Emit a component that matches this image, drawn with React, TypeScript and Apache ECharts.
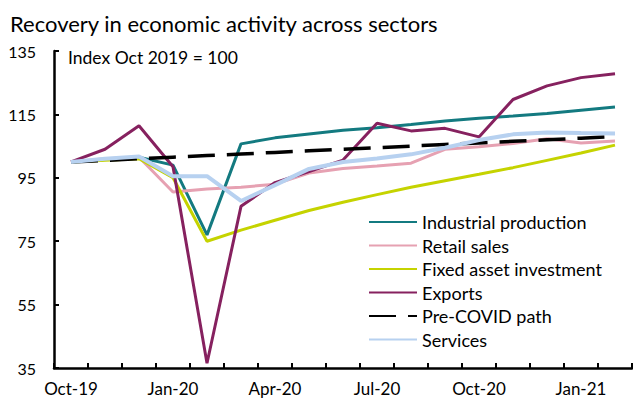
import React, { useEffect, useRef } from "react";
import * as echarts from "echarts";

const categories = ["Oct-19","Nov-19","Dec-19","Jan-20","Feb-20","Mar-20","Apr-20","May-20","Jun-20","Jul-20","Aug-20","Sep-20","Oct-20","Nov-20","Dec-20","Jan-21","Feb-21"];
const industrial = [100, 100.8, 101.5, 99, 77, 105.7, 107.6, 108.8, 110, 110.8, 111.8, 112.9, 113.8, 114.5, 115.3, 116.3, 117.3];
const retail = [100, 101, 101.5, 90.5, 91.5, 92, 93, 96.5, 97.9, 98.7, 99.6, 104, 104.8, 105.8, 107.3, 106, 106.6];
const fixedAsset = [100, 100.5, 101, 95, 75, 78.5, 81.6, 84.7, 87.3, 89.7, 92, 94.1, 96.1, 98.2, 100.5, 102.8, 105.3];
const exportsData = [100, 104, 111.4, 98.5, 36.5, 86, 93.5, 97, 100.6, 112.2, 109.8, 110.6, 107.9, 119.7, 124, 126.6, 127.8];
const preCovid = [100, 100.5, 101, 101.5, 102, 102.5, 103, 103.5, 104, 104.5, 105, 105.5, 106, 106.5, 107, 107.5, 108];
const services = [100, 101, 101.7, 95.5, 95.5, 87.7, 92.7, 97.8, 100, 101.1, 102.4, 104.5, 106.9, 108.7, 109.3, 109.1, 109];

const FONT = "Lato";

export default function App() {
  const ref = useRef<HTMLDivElement>(null);
  useEffect(() => {
    const chart = echarts.init(ref.current!, null, { renderer: "svg" });
    const mk = (name: string, data: number[], color: string, width: number, type: any = "solid") => ({
      name,
      type: "line",
      data,
      symbol: "none",
      lineStyle: { color, width, type },
      itemStyle: { color },
    });
    chart.setOption({
      animation: false,
      textStyle: { fontFamily: FONT, color: "#000" },
      title: {
        text: "Recovery in economic activity across sectors",
        left: 10,
        top: 12,
        padding: 0,
        textStyle: { fontFamily: FONT, fontSize: 22, fontWeight: "normal", color: "#000", lineHeight: 22 },
      },
      graphic: [
        {
          type: "text",
          left: 68,
          top: 48,
          style: { text: "Index Oct 2019 = 100", font: `17.5px ${FONT}`, fill: "#000" },
        },
      ],
      legend: {
        orient: "vertical",
        left: 368,
        top: 212,
        padding: 0,
        itemWidth: 48,
        itemHeight: 14,
        itemGap: 3.5,
        align: "left",
        itemStyle: { opacity: 0, borderWidth: 0 },
        textStyle: { fontFamily: FONT, fontSize: 18, color: "#000", lineHeight: 20 },
        data: ["Industrial production", "Retail sales", "Fixed asset investment", "Exports", "Pre-COVID path", "Services"],
      },
      grid: { left: 54, right: 1, top: 51, bottom: 32, containLabel: false },
      xAxis: {
        type: "category",
        data: categories,
        boundaryGap: true,
        axisLine: { lineStyle: { color: "#000", width: 2.5 } },
        axisTick: { show: true, inside: true, length: 5, interval: 0, lineStyle: { color: "#000", width: 2 } },
        axisLabel: { interval: 2, margin: 12, fontSize: 17, color: "#000", fontFamily: FONT },
        splitLine: { show: false },
      },
      yAxis: {
        type: "value",
        min: 35,
        max: 135,
        interval: 20,
        axisLine: { show: true, lineStyle: { color: "#000", width: 2.5 } },
        axisTick: { show: true, inside: true, length: 5, lineStyle: { color: "#000", width: 2 } },
        axisLabel: { margin: 18, fontSize: 16, color: "#000", fontFamily: FONT },
        splitLine: { show: false },
      },
      series: [
        mk("Industrial production", industrial, "#137a80", 3),
        mk("Retail sales", retail, "#e6a1b2", 3),
        mk("Fixed asset investment", fixedAsset, "#c5d300", 3),
        mk("Exports", exportsData, "#86215f", 3),
        mk("Pre-COVID path", preCovid, "#000000", 3.5, [27, 12]),
        mk("Services", services, "#b7d1f0", 4),
      ],
    });
    return () => chart.dispose();
  }, []);
  return <div ref={ref} style={{ width: 633, height: 400, position: "absolute", left: 0, top: 0 }} />;
}
